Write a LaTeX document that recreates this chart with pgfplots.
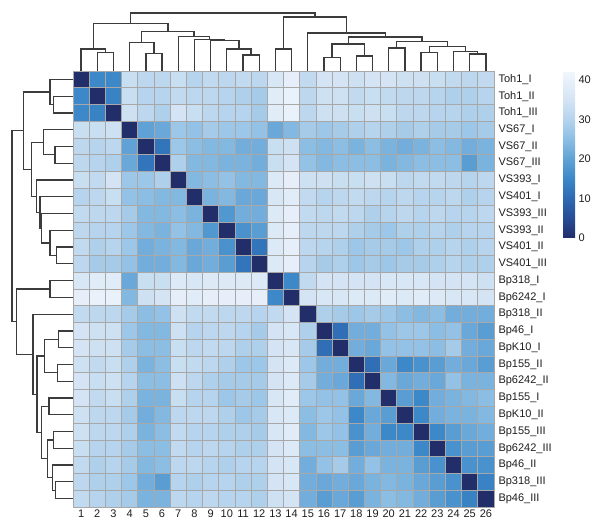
\documentclass[border=0pt]{standalone}
\usepackage{fontspec}
\setmainfont{Liberation Sans}
\usepackage{pgfplots}
\usepackage{pgfplotstable}
\pgfplotsset{compat=1.18}
\definecolor{gridgray}{RGB}{168,168,168}
\definecolor{dendro}{RGB}{60,60,60}
\definecolor{lab}{RGB}{30,30,30}

\pgfplotstableread{
c1 c2 c3 c4 c5 c6 c7 c8 c9 c10 c11 c12 c13 c14 c15 c16 c17 c18 c19 c20 c21 c22 c23 c24 c25 c26
0 15 15 33 31 31 33 30 32 31 32 31 36 39 32 35 35 34 35 35 34 34 33 32 31 32
15 0 14 33 30 30 32 31 31 30 29 28 38 40 31 34 34 32 33 32 31 31 30 29 29 30
15 14 0 34 31 29 35 33 31 30 30 28 38 40 31 34 34 33 34 33 31 31 30 30 29 29
33 33 34 0 20 21 27 26 28 27 27 26 21 24 28 27 28 29 30 29 28 29 28 28 27 28
31 30 31 20 0 12 27 25 24 24 22 22 33 34 25 24 25 23 25 23 22 23 25 24 22 23
31 30 29 21 12 0 29 24 24 23 23 22 33 35 26 24 25 25 25 23 24 25 25 25 19 23
33 32 35 27 27 29 0 24 25 26 24 24 37 39 34 34 33 33 34 33 31 32 32 31 30 31
30 31 33 26 25 24 24 0 23 24 21 21 36 38 32 30 31 32 31 30 31 30 30 31 29 30
32 31 31 28 24 24 25 23 0 18 22 22 37 39 32 31 32 31 29 30 31 30 31 30 30 31
31 30 30 27 24 23 26 24 18 0 17 19 37 39 31 31 31 29 28 27 29 29 30 29 30 30
32 29 30 27 22 23 24 21 22 17 0 12 37 39 31 30 29 27 28 28 27 29 29 30 29 30
31 28 28 26 22 22 24 21 22 19 12 0 37 39 30 28 29 27 28 27 28 28 29 30 29 29
36 38 38 21 33 33 37 36 37 37 37 37 0 15 32 35 35 35 35 36 36 36 35 35 35 34
39 40 40 24 34 35 39 38 39 39 39 39 15 0 35 36 36 37 37 38 37 38 37 36 36 35
32 31 31 28 25 26 34 32 32 31 31 30 32 35 0 29 28 27 28 27 25 24 25 22 22 22
35 34 34 27 24 24 34 30 31 31 30 28 35 36 29 0 11 22 22 26 27 27 25 26 21 19
35 34 34 28 25 25 33 31 32 31 29 29 35 36 28 11 0 22 21 26 26 26 25 28 22 21
34 32 33 29 23 25 33 32 31 29 27 27 35 37 27 22 22 0 11 21 15 17 19 22 21 19
35 33 34 30 25 25 34 31 29 28 28 28 35 37 28 22 21 11 0 24 21 22 21 26 23 23
35 32 33 29 23 23 33 30 30 27 28 27 36 38 27 26 26 21 24 0 19 15 22 23 24 25
34 31 31 28 22 24 31 31 31 29 27 28 36 37 25 27 26 15 21 19 0 15 22 23 23 24
34 31 31 29 23 25 32 30 30 29 29 28 36 38 24 27 26 17 22 15 15 0 15 19 21 22
33 30 30 28 25 25 32 30 31 30 29 29 35 37 25 25 25 19 21 22 22 15 0 17 19 19
32 29 30 28 24 25 31 31 30 29 30 30 35 36 22 26 28 22 26 23 23 19 17 0 17 17
31 29 29 27 22 19 30 29 30 30 29 29 35 36 22 21 22 21 23 24 23 21 19 17 0 14
32 30 29 28 23 23 31 30 31 30 30 29 34 35 22 19 21 19 23 25 24 22 19 17 14 0
}\hm

\pgfplotstableread{
p h
2 0
2 56
3 56
3 0
nan nan
1 0
1 66
2.5 66
2.5 56
nan nan
5 0
5 52
6 52
6 0
nan nan
4 0
4 85
5.5 85
5.5 52
nan nan
11 0
11 48
12 48
12 0
nan nan
10 0
10 66
11.5 66
11.5 48
nan nan
9 0
9 91
10.75 91
10.75 66
nan nan
8 0
8 95
9.875 95
9.875 91
nan nan
7 0
7 105
8.9375 105
8.9375 95
nan nan
4.75 85
4.75 120
7.96875 120
7.96875 105
nan nan
1.75 66
1.75 143
6.359375 143
6.359375 120
nan nan
13 0
13 66
14 66
14 0
nan nan
16 0
16 41
17 41
17 0
nan nan
18 0
18 45
19 45
19 0
nan nan
16.5 41
16.5 81
18.5 81
18.5 45
nan nan
20 0
20 69
21 69
21 0
nan nan
22 0
22 56
23 56
23 0
nan nan
25 0
25 51
26 51
26 0
nan nan
24 0
24 58
25.5 58
25.5 51
nan nan
22.5 56
22.5 73
24.75 73
24.75 58
nan nan
20.5 69
20.5 90
23.625 90
23.625 73
nan nan
17.5 81
17.5 103
22.0625 103
22.0625 90
nan nan
15 0
15 115
19.78125 115
19.78125 103
nan nan
13.5 66
13.5 163
17.390625 163
17.390625 115
nan nan
4.0546875 143
4.0546875 175
15.4453125 175
15.4453125 163
}\dendro

\begin{document}
\begin{tikzpicture}
\path[use as bounding box] (-73pt,-19pt) rectangle (527pt,507pt);

% heatmap
\begin{axis}[
  name=hm,
  at={(0pt,0pt)}, anchor=south west,
  scale only axis, width=421pt, height=436pt,
  xmin=0.5, xmax=26.5, ymin=0.5, ymax=26.5,
  y dir=reverse,
  axis line style={draw=none},
  major tick length=0pt,
  xtick={1,...,26},
  ytick={1,...,26},
  yticklabels={Toh1\_I,Toh1\_II,Toh1\_III,VS67\_I,VS67\_II,VS67\_III,VS393\_I,VS401\_I,VS393\_III,VS393\_II,VS401\_II,VS401\_III,Bp318\_I,Bp6242\_I,Bp318\_II,Bp46\_I,BpK10\_I,Bp155\_II,Bp6242\_II,Bp155\_I,BpK10\_II,Bp155\_III,Bp6242\_III,Bp46\_II,Bp318\_III,Bp46\_III},
  yticklabel pos=right,
  /pgf/number format/assume math mode=true,
  tick label style={font=\fontsize{11}{13}\selectfont, text=lab},
  xticklabel style={yshift=1pt},
  yticklabel style={xshift=1pt},
  clip=false,
  colormap={hm}{rgb255(0cm)=(33,46,106) rgb255(5cm)=(40,76,150) rgb255(10cm)=(45,105,178) rgb255(15cm)=(60,136,200) rgb255(20cm)=(96,162,213) rgb255(25cm)=(140,190,228) rgb255(30cm)=(182,212,237) rgb255(35cm)=(212,228,244) rgb255(42cm)=(241,246,252)},
  point meta min=0, point meta max=42,
  colorbar,
  colorbar style={
    at={(1.164,0.998)}, anchor=north west,
    width=12pt, height=166pt,
    ytick={0,10,20,30,40},
    major tick length=0pt,
    axis line style={draw=none},
    /pgf/number format/assume math mode=true,
    yticklabel style={font=\fontsize{11}{13}\selectfont, text=lab},
  },
]
\pgfplotsinvokeforeach{1,...,26}{
  \addplot[scatter, only marks, mark=square*, mark size=8.1pt,
    point meta=explicit,
    scatter/use mapped color={draw=gridgray, fill=mapped color},
    mark options={line width=0.7pt, yscale=1.036}]
    table[x expr=#1, y expr=\coordindex+1, meta=c#1]{\hm};
}
\end{axis}

% top dendrogram
\begin{axis}[
  at={(0pt,436pt)}, anchor=south west,
  scale only axis, width=421pt, height=58pt,
  xmin=0.5, xmax=26.5, ymin=0, ymax=175,
  hide axis, clip=false,
  unbounded coords=jump,
]
\addplot[dendro, line width=1.3pt] table[x=p, y=h]{\dendro};
\end{axis}

% left dendrogram
\begin{axis}[
  at={(0pt,0pt)}, anchor=south east,
  scale only axis, width=61pt, height=436pt,
  xmin=0, xmax=175, x dir=reverse,
  ymin=0.5, ymax=26.5, y dir=reverse,
  hide axis, clip=false,
  unbounded coords=jump,
]
\addplot[dendro, line width=1.3pt] table[x=h, y=p]{\dendro};
\end{axis}
\end{tikzpicture}
\end{document}
